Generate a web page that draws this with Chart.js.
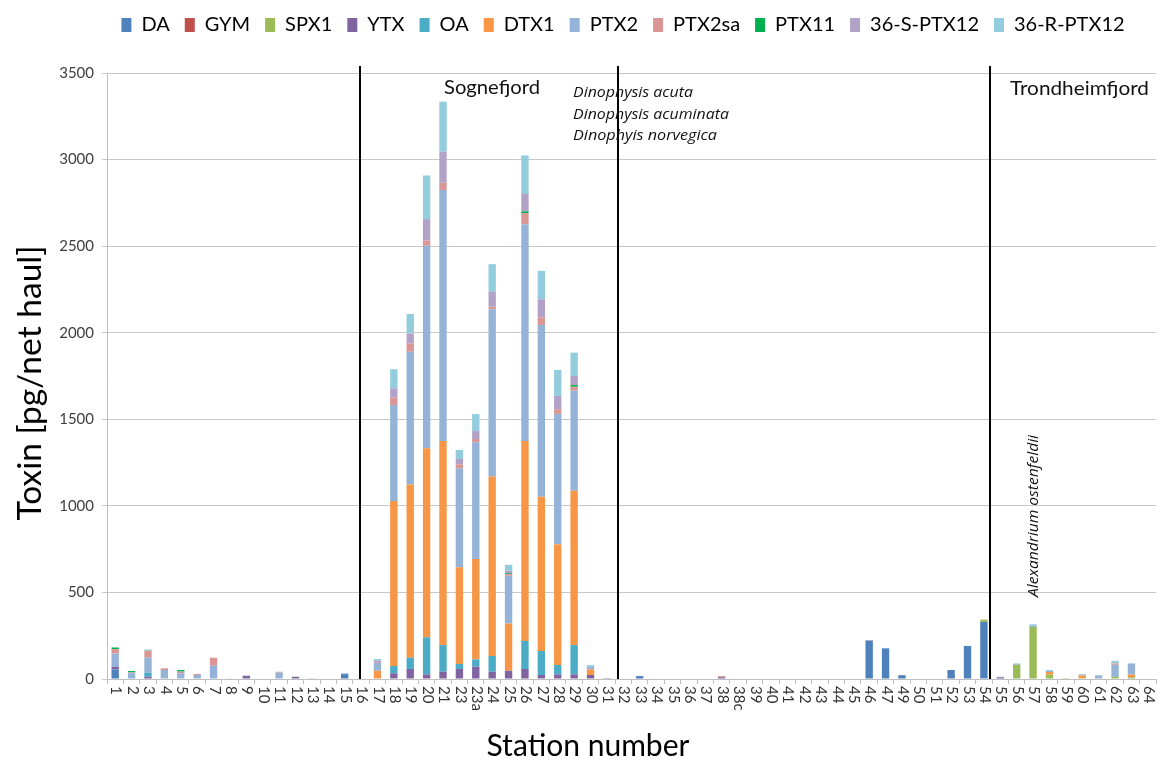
<!DOCTYPE html>
<html>
<head>
<meta charset="utf-8">
<script src="https://cdn.jsdelivr.net/npm/chart.js@4.4.1/dist/chart.umd.min.js"></script>
<style>
  html, body { margin: 0; padding: 0; background: #fff; }
  #wrap { width: 1157px; height: 764px; }
</style>
</head>
<body>
<div id="wrap"><canvas id="toxinChart" width="1157" height="764"></canvas></div>
<script>
// stations along the x axis (22 and 48 were not sampled)
const stations = ['1','2','3','4','5','6','7','8','9','10','11','12','13','14','15','16',
  '17','18','19','20','21','23','23a','24','25','26','27','28','29','30','31','32',
  '33','34','35','36','37','38','38c','39','40','41','42','43','44','45','46','47',
  '49','50','51','52','53','54','55','56','57','58','59','60','61','62','63','64'];

const yTicks = [0, 500, 1000, 1500, 2000, 2500, 3000, 3500];

// toxin per station, pg/net haul
const DA = [55,0,0,0,0,0,0,0,0,0,0,0,0,0,28,0,
  0,0,0,0,0,0,0,0,0,0,0,0,0,0,0,0,
  17,0,0,0,0,0,0,0,0,0,0,0,0,0,222,177,
  20,0,0,52,191,330,0,0,0,0,0,0,0,0,0,0];
const GYM = new Array(64).fill(0);
const SPX1 = [0,0,0,0,0,0,0,0,0,0,0,0,0,0,0,0,
  0,0,0,0,0,0,0,0,0,0,0,0,0,0,0,0,
  0,0,0,0,0,0,0,0,0,0,0,0,0,0,0,0,
  0,0,0,0,0,13,0,82,300,25,5,5,3,12,10,3];
const YTX = [15,0,13,3,0,0,0,0,19,0,0,13,4,0,0,0,
  3,33,58,27,42,58,71,42,48,58,23,27,27,23,5,0,
  0,0,0,0,0,10,0,0,0,0,0,0,0,0,0,0,
  3,0,0,0,0,0,10,0,0,0,0,0,0,0,0,0];
const OA = [0,0,23,0,0,0,0,0,0,0,0,0,0,0,0,0,
  0,42,65,214,154,29,42,91,0,162,139,54,169,0,0,0,
  0,0,0,0,0,0,0,0,0,0,0,0,0,0,0,0,
  0,0,0,0,0,0,0,0,0,0,0,0,0,0,0,0];
const DTX1 = [0,0,0,0,0,0,0,0,0,0,0,0,0,0,0,0,
  45,953,1001,1092,1178,558,580,1036,273,1155,891,697,891,33,0,0,
  0,0,0,0,0,0,0,0,0,0,0,0,0,0,0,0,
  0,0,0,0,0,0,0,0,0,15,0,15,0,0,15,0];
const PTX2 = [77,34,87,49,33,23,77,0,0,0,37,0,0,0,5,2,
  45,555,766,1169,1450,572,674,967,275,1252,992,753,578,15,0,3,
  0,0,0,3,0,0,3,0,0,0,0,0,0,0,0,0,
  0,0,3,0,0,0,3,4,8,7,0,6,17,70,65,0];
const PTX2sa = [25,4,40,10,10,6,46,4,0,0,5,0,0,0,0,0,
  5,42,48,31,42,23,19,15,10,64,44,27,23,0,0,0,
  0,0,0,0,0,7,0,0,0,0,0,0,0,0,3,0,
  0,0,0,0,0,0,0,0,0,0,0,0,0,8,0,0];
const PTX11 = [10,8,0,0,9,0,0,0,0,0,0,0,0,0,0,0,
  0,0,0,0,0,0,0,0,5,10,0,0,10,0,0,0,
  0,0,0,0,0,0,0,0,0,0,0,0,0,0,0,0,
  0,0,0,0,0,0,0,0,0,0,0,0,0,0,0,0];
const S_PTX12 = [0,0,0,0,0,0,0,0,0,0,0,0,0,0,0,0,
  8,54,58,123,179,31,46,87,15,100,104,77,52,0,0,0,
  0,0,0,0,0,0,0,0,0,0,0,0,0,0,0,0,
  0,0,0,0,0,0,0,0,0,0,0,0,0,0,0,0];
const R_PTX12 = [0,0,8,0,0,0,0,0,0,0,0,0,0,0,0,0,
  10,110,112,252,289,52,98,158,33,223,164,150,135,10,0,0,
  0,0,0,0,0,0,0,0,0,0,0,0,0,0,0,0,
  0,0,0,0,0,0,0,4,8,5,0,3,3,15,0,0];

const seriesNames = ['DA','GYM','SPX1','YTX','OA','DTX1','PTX2','PTX2sa','PTX11','36-S-PTX12','36-R-PTX12'];
const seriesData = [DA, GYM, SPX1, YTX, OA, DTX1, PTX2, PTX2sa, PTX11, S_PTX12, R_PTX12];
const seriesColors = ['#4F81BD','#C0504D','#9BBB59','#8064A2','#4BACC6','#F79646',
  '#95B3D7','#DA9694','#00B050','#B3A2C7','#93CDDD'];

// fjord dividers, as fractional category positions
const dividers = [14.93, 30.68, 53.37];

const FONT = "Lato, 'Open Sans', sans-serif";

// draw text stretched sideways to a given width (the original was squeezed)
function fitText(ctx, text, x, y, width, angle) {
  const w = ctx.measureText(text).width;
  ctx.save();
  ctx.translate(x, y);
  if (angle) ctx.rotate(angle);
  ctx.scale(width / w, 1);
  ctx.fillText(text, 0, 0);
  ctx.restore();
}

// push the legend down so the plot starts where the original did
const legendSpace = {
  id: 'legendSpace',
  beforeInit(chart) {
    const fit = chart.legend.fit;
    chart.legend.fit = function () {
      fit.bind(chart.legend)();
      this.height = 73;
    };
  },
  afterLayout(chart) {
    chart.legend.left += 45;
    chart.legend.right += 45;
  }
};

const extras = {
  id: 'extras',
  afterDatasetsDraw(chart) {
    const { ctx, scales: { x }, chartArea } = chart;
    ctx.save();
    ctx.strokeStyle = '#000';
    ctx.lineWidth = 2;
    dividers.forEach(d => {
      const px = Math.round(x.getPixelForValue(d));
      ctx.beginPath();
      ctx.moveTo(px, 66);
      ctx.lineTo(px, chartArea.bottom);
      ctx.stroke();
    });
    ctx.restore();
  },
  afterDraw(chart) {
    const { ctx, scales: { x }, chartArea } = chart;
    ctx.save();
    // x tick labels, reading top to bottom
    ctx.fillStyle = '#333';
    ctx.font = '15px ' + FONT;
    ctx.textAlign = 'left';
    ctx.textBaseline = 'middle';
    stations.forEach((s, i) => {
      ctx.save();
      ctx.translate(x.getPixelForTick(i) + 1, chartArea.bottom + 7);
      ctx.rotate(Math.PI / 2);
      ctx.fillText(s, 0, 0);
      ctx.restore();
    });

    // axis titles
    ctx.fillStyle = '#000';
    ctx.textAlign = 'center';
    ctx.font = '30px ' + FONT;
    fitText(ctx, 'Station number', 588, 746, 203);
    ctx.font = '32px ' + FONT;
    fitText(ctx, 'Toxin [pg/net haul]', 31, 383, 275, -Math.PI / 2);

    // fjord / species notes
    ctx.textAlign = 'left';
    ctx.textBaseline = 'alphabetic';
    ctx.fillStyle = '#111';
    ctx.font = '20px ' + FONT;
    fitText(ctx, 'Sognefjord', 444, 94, 96);
    fitText(ctx, 'Trondheimfjord', 1010, 95, 139);
    ctx.font = "italic 15px 'Open Sans', sans-serif";
    fitText(ctx, 'Dinophysis acuta', 573, 97, 120);
    fitText(ctx, 'Dinophysis acuminata', 573, 119, 156);
    fitText(ctx, 'Dinophyis norvegica', 573, 140, 144);
    fitText(ctx, 'Alexandrium ostenfeldii', 1038, 597, 162, -Math.PI / 2);
    ctx.restore();
  }
};

new Chart(document.getElementById('toxinChart'), {
  type: 'bar',
  data: {
    labels: stations,
    datasets: seriesNames.map((name, i) => ({
      label: name,
      data: seriesData[i],
      backgroundColor: seriesColors[i],
      borderWidth: 0,
      barPercentage: 0.45,
      categoryPercentage: 1.0
    }))
  },
  options: {
    responsive: false,
    animation: false,
    layout: { padding: { left: 0, right: 1, top: 0, bottom: 0 } },
    plugins: {
      legend: {
        position: 'top',
        labels: {
          boxWidth: 10, boxHeight: 14, padding: 15,
          color: '#000',
          font: { family: FONT, size: 20 }
        }
      },
      tooltip: { enabled: false }
    },
    scales: {
      x: {
        stacked: true,
        grid: { display: true, drawOnChartArea: false, color: '#BFBFBF', tickLength: 5, offset: true },
        border: { color: '#BFBFBF' },
        ticks: { display: false },
        afterFit(scale) { scale.height = 85; }
      },
      y: {
        stacked: true,
        min: 0, max: 3500,
        afterBuildTicks(scale) { scale.ticks = yTicks.map(v => ({ value: v })); },
        grid: { color: '#C8C8C8', tickLength: 5 },
        border: { color: '#BFBFBF' },
        ticks: {
          color: '#404040', padding: 8,
          font: { family: FONT, size: 15 },
          callback: v => String(v)
        },
        afterFit(scale) { scale.width = 107; }
      }
    }
  },
  plugins: [legendSpace, extras]
});
</script>
</body>
</html>
